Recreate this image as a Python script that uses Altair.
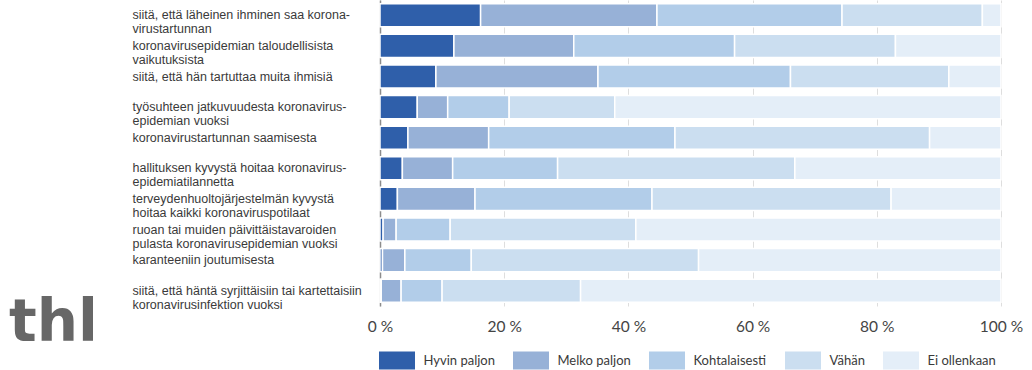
import altair as alt
import pandas as pd

# Survey items (line breaks mark where the axis label wraps)
categories = [
    "siitä, että läheinen ihminen saa korona-\nvirustartunnan",
    "koronavirusepidemian taloudellisista\nvaikutuksista",
    "siitä, että hän tartuttaa muita ihmisiä",
    "työsuhteen jatkuvuudesta koronavirus-\nepidemian vuoksi",
    "koronavirustartunnan saamisesta",
    "hallituksen kyvystä hoitaa koronavirus-\nepidemiatilannetta",
    "terveydenhuoltojärjestelmän kyvystä\nhoitaa kaikki koronaviruspotilaat",
    "ruoan tai muiden päivittäistavaroiden\npulasta koronavirusepidemian vuoksi",
    "karanteeniin joutumisesta",
    "siitä, että häntä syrjittäisiin tai kartettaisiin\nkoronavirusinfektion vuoksi",
]

series_names = ["Hyvin paljon", "Melko paljon", "Kohtalaisesti", "Vähän", "Ei ollenkaan"]
series_colors = ["#2f5faa", "#97b1d7", "#b2cde9", "#cbdef0", "#e4eef8"]

# Shares of respondents (%) for each item
hyvin_paljon = [16.2, 11.9, 9.0, 6.0, 4.5, 3.6, 2.8, 0.5, 0.4, 0.2]
melko_paljon = [28.4, 19.3, 26.1, 4.9, 13.0, 8.1, 12.5, 2.1, 3.6, 3.2]
kohtalaisesti = [29.8, 25.9, 31.0, 9.9, 30.0, 16.9, 28.5, 8.7, 10.7, 6.6]
vahan = [22.6, 25.9, 25.5, 17.0, 41.0, 38.2, 38.5, 29.9, 36.6, 22.3]
ei_ollenkaan = [3.0, 17.0, 8.4, 62.2, 11.5, 33.2, 17.7, 58.8, 48.7, 67.7]

x_ticks = [0, 20, 40, 60, 80, 100]

FONT = "Lato"
LABEL_FONT = "Liberation Sans"

rows = []
for s_idx, (name, values) in enumerate(
    zip(series_names, [hyvin_paljon, melko_paljon, kohtalaisesti, vahan, ei_ollenkaan])
):
    for cat, v in zip(categories, values):
        rows.append({"kysymys": cat, "vastaus": name, "osuus": v, "jarjestys": s_idx})
df = pd.DataFrame(rows)

bars = (
    alt.Chart(df)
    .mark_bar(stroke="white", strokeWidth=1.5)
    .encode(
        y=alt.Y(
            "kysymys:N",
            sort=categories,
            title=None,
            scale=alt.Scale(paddingInner=0.245),
            axis=alt.Axis(
                orient="left",
                labelAlign="left",
                labelBaseline="middle",
                labelPadding=248,
                ticks=False,
                domain=True,
                domainColor="#8c8c8c",
                domainWidth=1.5,
                labelFont=LABEL_FONT,
                labelFontSize=12.5,
                labelColor="#3a3a3a",
                labelLineHeight=14,
                labelLimit=320,
                labelExpr="split(datum.label, '\\n')",
            ),
        ),
        x=alt.X(
            "osuus:Q",
            stack="zero",
            title=None,
            scale=alt.Scale(domain=[0, 100], nice=False),
            axis=alt.Axis(
                values=x_ticks,
                labelExpr="datum.value + ' %'",
                labelFlush=False,
                domain=False,
                ticks=False,
                grid=True,
                gridColor="#dedede",
                gridWidth=1,
                labelFont=FONT,
                labelFontSize=15.5,
                labelColor="#444444",
                labelPadding=13,
            ),
        ),
        color=alt.Color(
            "vastaus:N",
            sort=series_names,
            scale=alt.Scale(domain=series_names, range=series_colors),
            legend=alt.Legend(
                title=None,
                orient="none",
                legendX=-1,
                legendY=342.5,
                padding=0,
                direction="horizontal",
                symbolType="M-1,-0.5H1V0.5H-1Z",
                symbolSize=1296,
                symbolStrokeWidth=0,
                symbolOpacity=1,
                labelFont=FONT,
                labelFontSize=13,
                labelColor="#3a3a3a",
                labelOffset=8.5,
                columnPadding=18,
            ),
        ),
        order=alt.Order("jarjestys:Q", sort="ascending"),
    )
)

logo = (
    alt.Chart(pd.DataFrame({"t": ["thl"]}))
    .mark_text(
        font="DejaVu Sans",
        fontSize=58,
        fontWeight="bold",
        color="#676767",
        align="left",
        baseline="alphabetic",
    )
    .encode(text="t:N", x=alt.value(-371), y=alt.value(341))
)

chart = (
    alt.layer(bars, logo)
    .properties(
        width=621,
        height=306,
        autosize=alt.AutoSizeParams(type="none"),
        padding={"left": 380, "top": 0, "right": 31, "bottom": 64},
    )
    .configure_view(stroke=None)
)

chart.save("out.html", embed_options={"renderer": "svg", "actions": False})
